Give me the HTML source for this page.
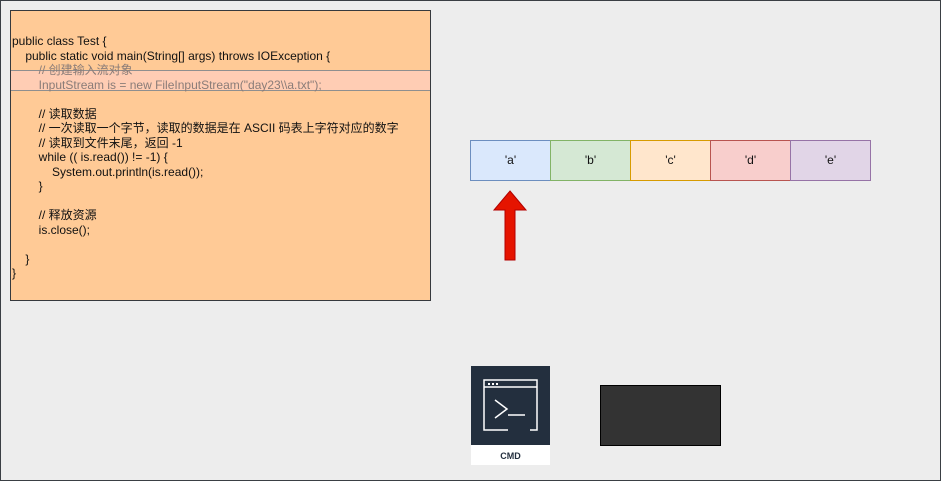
<!DOCTYPE html>
<html><head><meta charset="utf-8"><style>
body{margin:0;width:941px;height:481px;overflow:hidden;background:#ededed;font-family:"Liberation Sans","Noto Sans CJK SC",sans-serif;}
.frame{position:absolute;left:0;top:0;width:939px;height:479px;border:1px solid #3a3f44;}
.code{position:absolute;left:10px;top:10px;width:419px;height:289px;background:#ffca96;border:1px solid #36393d;}
.band{position:absolute;left:11px;top:70px;width:419px;height:19px;background:#ffcdb4;border-top:1px solid #8f8f8f;border-bottom:1px solid #8f8f8f;}
.txt{position:absolute;left:12px;top:34px;font-size:12px;line-height:14.5px;color:#111;white-space:pre;}
.g{color:#8a7c78}
.cell{position:absolute;top:140px;width:79px;height:39px;border:1px solid;font-size:12px;line-height:39px;text-align:center;color:#111;}
</style></head><body>
<div class="frame"></div>
<div class="code"></div>
<div class="band"></div>
<div class="txt">public class Test {
    public static void main(String[] args) throws IOException {
        <span class="g">// 创建输入流对象</span>
        <span class="g">InputStream is = new FileInputStream("day23\\a.txt");</span>

        // 读取数据
        // 一次读取一个字节，读取的数据是在 ASCII 码表上字符对应的数字
        // 读取到文件末尾，返回 -1
        while (( is.read()) != -1) {
            System.out.println(is.read());
        }

        // 释放资源
        is.close();

    }
}</div>
<div class="cell" style="left:470px;background:#dae8fc;border-color:#6c8ebf">'a'</div>
<div class="cell" style="left:550px;background:#d5e8d4;border-color:#82b366">'b'</div>
<div class="cell" style="left:630px;background:#ffe6cc;border-color:#d79b00">'c'</div>
<div class="cell" style="left:710px;background:#f8cecc;border-color:#b85450">'d'</div>
<div class="cell" style="left:790px;background:#e1d5e7;border-color:#9673a6">'e'</div>
<svg style="position:absolute;left:0;top:0" width="941" height="481">
<polygon points="510,191 526,210 515,210 515,260 505,260 505,210 494,210" fill="#e51400" stroke="#b20000" stroke-width="1"/>
<rect x="471" y="366" width="79" height="79" fill="#232f3e"/>
<rect x="471" y="445" width="79" height="20" fill="#fff"/>
<text x="510.5" y="459" font-family="Liberation Sans" font-size="9" font-weight="bold" fill="#232f3e" text-anchor="middle">CMD</text>
<g stroke="#fff" stroke-width="1.5" fill="none">
<path d="M508,430 H484 V380 H537 V430 H530"/>
<line x1="484" y1="387" x2="537" y2="387"/>
<polyline points="495,400 507,409 495,418"/>
<line x1="508" y1="415" x2="525" y2="415"/>
</g>
<g fill="#fff"><rect x="488" y="383" width="2" height="2"/><rect x="492" y="383" width="2" height="2"/><rect x="496" y="383" width="2" height="2"/></g>
<rect x="600.5" y="385.5" width="120" height="60" fill="#333" stroke="#000"/>
</svg>
</body></html>
